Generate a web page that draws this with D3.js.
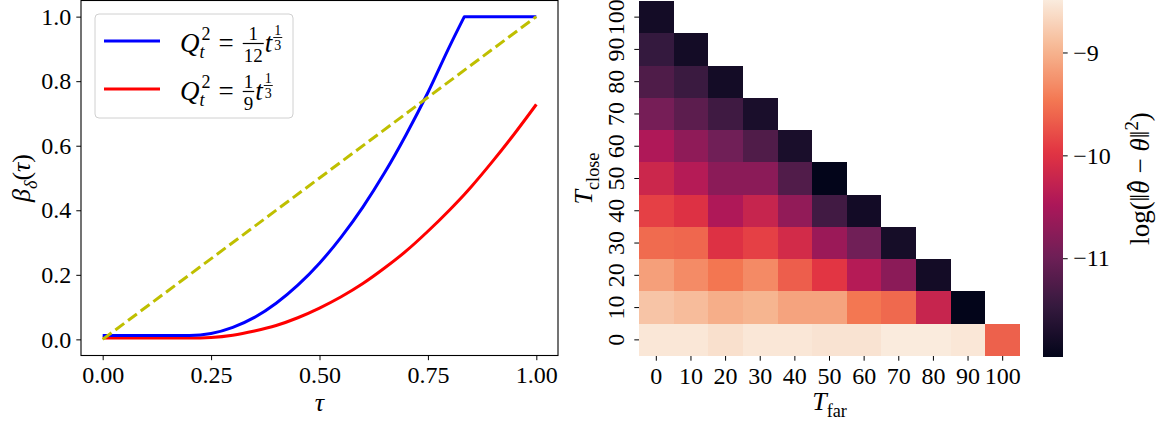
<!DOCTYPE html>
<html>
<head>
<meta charset="utf-8">
<script src="https://cdn.jsdelivr.net/npm/d3@7"></script>
<style>
  body { margin: 0; background: #fff; }
  svg text { font-family: "Liberation Serif", "DejaVu Serif", serif; fill: #000; }
</style>
</head>
<body>
<svg id="fig" width="1162" height="423"></svg>
<script>
// ---- left panel data ----
var tauVals  = [0, 0.1, 0.2, 0.25, 0.3, 0.35, 0.4, 0.45, 0.5, 0.55, 0.6, 0.65, 0.7, 0.75, 0.8, 0.834, 0.85, 0.9, 0.95, 1.0];
var blueVals = [0.012, 0.012, 0.012, 0.018, 0.037, 0.068, 0.112, 0.168, 0.236, 0.317, 0.41, 0.516, 0.635, 0.765, 0.908, 1, 1, 1, 1, 1];
var redVals  = [0.004, 0.004, 0.004, 0.006, 0.013, 0.026, 0.043, 0.067, 0.097, 0.132, 0.173, 0.221, 0.274, 0.335, 0.401, 0.449, 0.473, 0.553, 0.638, 0.728];
var refTau = [0, 1], refVals = [0, 1];
var xTicksL = [0, 0.25, 0.5, 0.75, 1];
var yTicksL = [0, 0.2, 0.4, 0.6, 0.8, 1];

// ---- right panel data: log error, rows T_close = 0..100, cols T_far = 0.. ----
var tFar   = ["0", "10", "20", "30", "40", "50", "60", "70", "80", "90", "100"];
var tClose = ["0", "10", "20", "30", "40", "50", "60", "70", "80", "90", "100"];
var logErr = [
  [-8.53, -8.53, -8.59, -8.53, -8.53, -8.56, -8.56, -8.49, -8.49, -8.53, -9.64],
  [-8.84, -8.91, -9.03, -8.98, -9.12, -9.12, -9.47, -9.58, -10.23, -11.96],
  [-9.15, -9.31, -9.48, -9.32, -9.66, -9.96, -10.40, -10.75, -11.79],
  [-9.56, -9.59, -10.02, -9.88, -10.12, -10.62, -10.97, -11.77],
  [-9.88, -10.02, -10.45, -10.23, -10.69, -11.36, -11.80],
  [-10.19, -10.40, -10.75, -10.75, -11.23, -11.96],
  [-10.45, -10.72, -10.97, -11.24, -11.73],
  [-10.92, -11.14, -11.38, -11.73],
  [-11.25, -11.42, -11.79],
  [-11.47, -11.79],
  [-11.79]
];
var cbarTicks = [-9, -10, -11];

// seaborn "rocket" colour stops
var rocket = ["#03051a", "#35193e", "#701f57", "#ad1759", "#e13342", "#f37651", "#f6b48f", "#faebdd"];

var svg = d3.select("#fig");
var FS = 24;
var SERIF = '"Liberation Serif", "DejaVu Serif", serif';

function styleAxis(g) {
  g.attr("font-family", null).attr("font-size", null);
  g.selectAll("text").style("font-size", FS + "px").style("font-family", SERIF);
  g.selectAll("line").attr("stroke", "#000").attr("stroke-width", 1);
}

// text with sub / sup parts (dx/up for accents)
function addMath(sel, parts, fs) {
  var text = sel.append("text").attr("text-anchor", "middle").style("font-size", fs + "px");
  var shift = 0;
  parts.forEach(function(p) {
    var target = p.s === "sub" ? 0.28 * fs : p.s === "sup" ? -0.42 * fs : 0;
    if (p.up) target -= p.up * fs;
    var ts = text.append("tspan").text(p.t).attr("dy", target - shift)
      .style("font-size", (p.s ? 0.7 * fs : fs) + "px");
    if (p.dx) ts.attr("dx", p.dx * fs);
    if (p.i) ts.style("font-style", "italic");
    shift = target;
  });
  return text;
}

function txt(g, s, x, y, fs, it) {
  var t = g.append("text").attr("x", x).attr("y", y).style("font-size", fs + "px").text(s);
  if (it) t.style("font-style", "italic");
  return t.node().getComputedTextLength();
}

// ================= left panel =================
var xL = d3.scaleLinear().domain([-0.05, 1.05]).range([81, 558]);
var yL = d3.scaleLinear().domain([-0.05, 1.05]).range([355.5, 0.5]);

var left = svg.append("g");

left.append("g")
  .attr("transform", "translate(0," + yL.range()[0] + ")")
  .call(d3.axisBottom(xL).tickValues(xTicksL).tickFormat(d3.format(".2f")).tickSize(4.7).tickPadding(6))
  .call(styleAxis)
  .select(".domain").remove();

left.append("g")
  .attr("transform", "translate(" + xL.range()[0] + ",0)")
  .call(d3.axisLeft(yL).tickValues(yTicksL).tickFormat(d3.format(".1f")).tickSize(4.7).tickPadding(5))
  .call(styleAxis)
  .select(".domain").remove();

var line = d3.line()
  .x(function(d) { return xL(d[0]); })
  .y(function(d) { return yL(d[1]); });

// red curve
left.append("path")
  .attr("d", line.curve(d3.curveMonotoneX)(d3.zip(tauVals, redVals)))
  .attr("fill", "none").attr("stroke", "#ff0000").attr("stroke-width", 3);

// blue curve: smooth rise, then a sharp kink into the flat cap
var bluePts = d3.zip(tauVals, blueVals);
var kink = blueVals.indexOf(d3.max(blueVals));
var bluePath = line.curve(d3.curveMonotoneX)(bluePts.slice(0, kink + 1)) +
  line.curve(d3.curveLinear)(bluePts.slice(kink)).replace(/^M/, "L");
left.append("path")
  .attr("d", bluePath)
  .attr("fill", "none").attr("stroke", "#0000ff").attr("stroke-width", 3)
  .attr("stroke-linejoin", "round");

// dashed reference, drawn on top
left.append("path")
  .attr("d", line.curve(d3.curveLinear)(d3.zip(refTau, refVals)))
  .attr("fill", "none").attr("stroke", "#bfbf00").attr("stroke-width", 3)
  .attr("stroke-dasharray", "11,4.8");

// frame
left.append("rect")
  .attr("x", xL.range()[0]).attr("y", yL.range()[1])
  .attr("width", xL.range()[1] - xL.range()[0])
  .attr("height", yL.range()[0] - yL.range()[1])
  .attr("fill", "none").attr("stroke", "#000").attr("stroke-width", 1.1);

// legend
var leg = left.append("g");
leg.append("rect")
  .attr("x", 95).attr("y", 14).attr("width", 198).attr("height", 104).attr("rx", 4)
  .attr("fill", "#fff").attr("fill-opacity", 0.8)
  .attr("stroke", "#d0d0d0").attr("stroke-width", 1);

function legendEntry(y0, den, color) {
  leg.append("line").attr("x1", 104).attr("x2", 160).attr("y1", y0 - 11).attr("y2", y0 - 11)
    .attr("stroke", color).attr("stroke-width", 3);
  var x = 180;
  x += txt(leg, "Q", x, y0, 27, true);
  var w1 = txt(leg, "2", x + 2, y0 - 12, 18);
  var w2 = txt(leg, "t", x, y0 + 6, 18, true);
  x += Math.max(w1 + 2, w2) + 8;
  x += txt(leg, "=", x, y0, 27) + 9;
  var n = leg.append("text").attr("text-anchor", "middle").attr("y", y0 - 12).style("font-size", "19px").text("1");
  var d = leg.append("text").attr("text-anchor", "middle").attr("y", y0 + 10).style("font-size", "19px").text(den);
  var fw = Math.max(n.node().getComputedTextLength(), d.node().getComputedTextLength()) + 2;
  n.attr("x", x + fw / 2); d.attr("x", x + fw / 2);
  leg.append("line").attr("x1", x).attr("x2", x + fw).attr("y1", y0 - 8.5).attr("y2", y0 - 8.5)
    .attr("stroke", "#000").attr("stroke-width", 1.2);
  x += fw + 1;
  x += txt(leg, "t", x, y0, 27, true) + 1;
  var sn = leg.append("text").attr("text-anchor", "middle").attr("y", y0 - 17).style("font-size", "14px").text("1");
  var sd = leg.append("text").attr("text-anchor", "middle").attr("y", y0 - 2).style("font-size", "14px").text("3");
  var sw = sn.node().getComputedTextLength() + 2;
  sn.attr("x", x + sw / 2); sd.attr("x", x + sw / 2);
  leg.append("line").attr("x1", x).attr("x2", x + sw).attr("y1", y0 - 14.5).attr("y2", y0 - 14.5)
    .attr("stroke", "#000").attr("stroke-width", 0.9);
}
legendEntry(52, "12", "#0000ff");
legendEntry(100, "9", "#ff0000");

// axis labels
left.append("g").attr("transform", "translate(" + d3.mean(xL.range()) + ",411)")
  .call(function(g) { addMath(g, [{t: "τ", i: 1}], 26); });
left.append("g").attr("transform", "translate(30," + d3.mean(yL.range()) + ") rotate(-90)")
  .call(function(g) {
    addMath(g, [{t: "β", i: 1}, {t: "δ", i: 1, s: "sub"}, {t: "("}, {t: "τ", i: 1}, {t: ")"}], 26);
  });

// ================= right panel: heatmap =================
var allVals = d3.merge(logErr);
var vmin = d3.min(allVals), vmax = d3.max(allVals);
var color = d3.scaleSequential(d3.piecewise(d3.interpolateRgb, rocket)).domain([vmin, vmax]);

var xH = d3.scaleBand().domain(tFar).range([639, 1020]);
var yH = d3.scaleBand().domain(tClose.slice().reverse()).range([1, 356]);

var cells = [];
logErr.forEach(function(row, i) {
  row.forEach(function(v, j) { cells.push({close: tClose[i], far: tFar[j], val: v}); });
});

var heat = svg.append("g");
heat.selectAll(".cell")
  .data(cells)
  .enter().append("rect")
  .attr("class", "cell")
  .attr("x", function(d) { return xH(d.far); })
  .attr("y", function(d) { return yH(d.close); })
  .attr("width", xH.bandwidth())
  .attr("height", yH.bandwidth())
  .attr("fill", function(d) { return color(d.val); })
  .attr("shape-rendering", "crispEdges");

heat.append("g")
  .attr("transform", "translate(0,356)")
  .call(d3.axisBottom(xH).tickSize(4.7).tickPadding(6))
  .call(styleAxis)
  .select(".domain").remove();

var yAx = heat.append("g")
  .attr("transform", "translate(639,0)")
  .call(d3.axisLeft(yH).tickSize(4.7))
  .call(styleAxis);
yAx.select(".domain").remove();
yAx.selectAll(".tick text")
  .attr("x", 0).attr("dy", null)
  .attr("text-anchor", "middle")
  .attr("transform", "translate(-15,0) rotate(-90)");

heat.append("g").attr("transform", "translate(" + d3.mean(xH.range()) + ",410)")
  .call(function(g) { addMath(g, [{t: "T", i: 1}, {t: "far", s: "sub"}], 26); });
heat.append("g").attr("transform", "translate(592," + d3.mean(yH.range()) + ") rotate(-90)")
  .call(function(g) { addMath(g, [{t: "T", i: 1}, {t: "close", s: "sub"}], 26); });

// ================= colourbar =================
var yC = d3.scaleLinear().domain([vmin, vmax]).range([357, 0]);
var grad = svg.append("defs").append("linearGradient")
  .attr("id", "cbar").attr("x1", 0).attr("y1", 1).attr("x2", 0).attr("y2", 0);
d3.range(0, 1.0001, 0.02).forEach(function(t) {
  grad.append("stop").attr("offset", t).attr("stop-color", color(vmin + t * (vmax - vmin)));
});
svg.append("rect")
  .attr("x", 1043).attr("y", yC(vmax)).attr("width", 20).attr("height", yC(vmin) - yC(vmax))
  .attr("fill", "url(#cbar)");

svg.append("g")
  .attr("transform", "translate(1063,0)")
  .call(d3.axisRight(yC).tickValues(cbarTicks).tickFormat(d3.format("d")).tickSize(4.7).tickPadding(5.5))
  .call(styleAxis)
  .select(".domain").remove();

svg.append("g").attr("transform", "translate(1149," + d3.mean(yC.range()) + ") rotate(-90)")
  .call(function(g) {
    addMath(g, [{t: "log(‖"}, {t: "θ", i: 1},
      {t: "ˆ", dx: -0.4, up: 0.12}, {t: " − ", dx: 0.08},
      {t: "θ", i: 1}, {t: "‖"}, {t: "2", s: "sup"}, {t: ")"}], 27);
  });
</script>
</body>
</html>
